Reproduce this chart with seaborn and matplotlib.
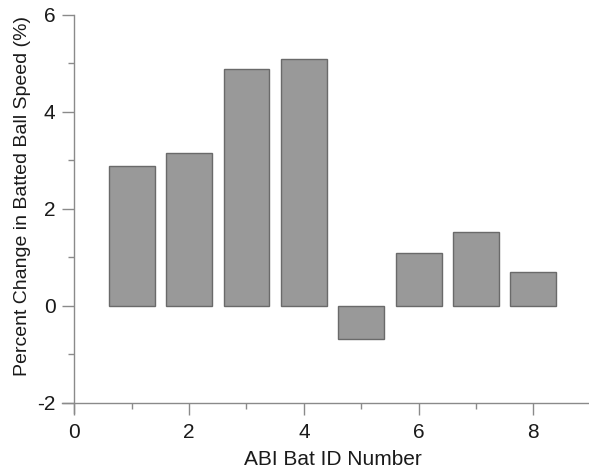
import matplotlib
matplotlib.use("Agg")
import matplotlib.pyplot as plt
import pandas as pd
import seaborn as sns
from matplotlib.ticker import MultipleLocator

# values
bat_ids = [1, 2, 3, 4, 5, 6, 7, 8]
speed_change = [2.88, 3.15, 4.88, 5.10, -0.69, 1.10, 1.52, 0.70]

x_label = "ABI Bat ID Number"
y_label = "Percent Change in Batted Ball Speed (%)"

df = pd.DataFrame({"bat": bat_ids, "change": speed_change})

sns.set_style("ticks")
plt.rcParams["font.family"] = ["Liberation Sans", "DejaVu Sans"]
plt.rcParams["axes.unicode_minus"] = False

axis_grey = "#8a8a8a"
text_col = "#1a1a1a"

fig = plt.figure(figsize=(5.89, 4.70), dpi=100)
ax = fig.add_axes([61.7 / 589, 57 / 470, 1 - 61.7 / 589, (413 - 15) / 470])

sns.barplot(data=df, x="bat", y="change", native_scale=True, width=0.8,
            color="#999999", saturation=1, edgecolor="#6a6a6a", linewidth=1.0,
            errorbar=None, ax=ax)

ax.set_xlim(-0.22, 8.97)
ax.set_ylim(-2.21, 6)

# axis lines cross at (0, -2) like the original
ax.spines["left"].set_position(("data", 0))
ax.spines["bottom"].set_position(("data", -2))
ax.spines["top"].set_visible(False)
ax.spines["right"].set_visible(False)
for side in ["left", "bottom"]:
    ax.spines[side].set_color(axis_grey)
    ax.spines[side].set_linewidth(1.0)

ax.xaxis.set_major_locator(MultipleLocator(2))
ax.xaxis.set_minor_locator(MultipleLocator(1))
ax.yaxis.set_major_locator(MultipleLocator(2))
ax.yaxis.set_minor_locator(MultipleLocator(1))
ax.tick_params(which="major", direction="out", length=8.5, width=1.0,
               color=axis_grey, labelsize=15, labelcolor=text_col, pad=5)
ax.tick_params(which="minor", direction="out", length=4.5, width=1.0,
               color=axis_grey)
ax.tick_params(axis="x", which="major", pad=6)

ax.set_xlabel(x_label, fontsize=15, color=text_col)
ax.set_ylabel(y_label, fontsize=14, color=text_col)
ax.xaxis.set_label_coords(0.5145, -0.093)
ax.yaxis.set_label_coords(-0.058, 0.545)

fig.savefig("out.png", dpi=100)
